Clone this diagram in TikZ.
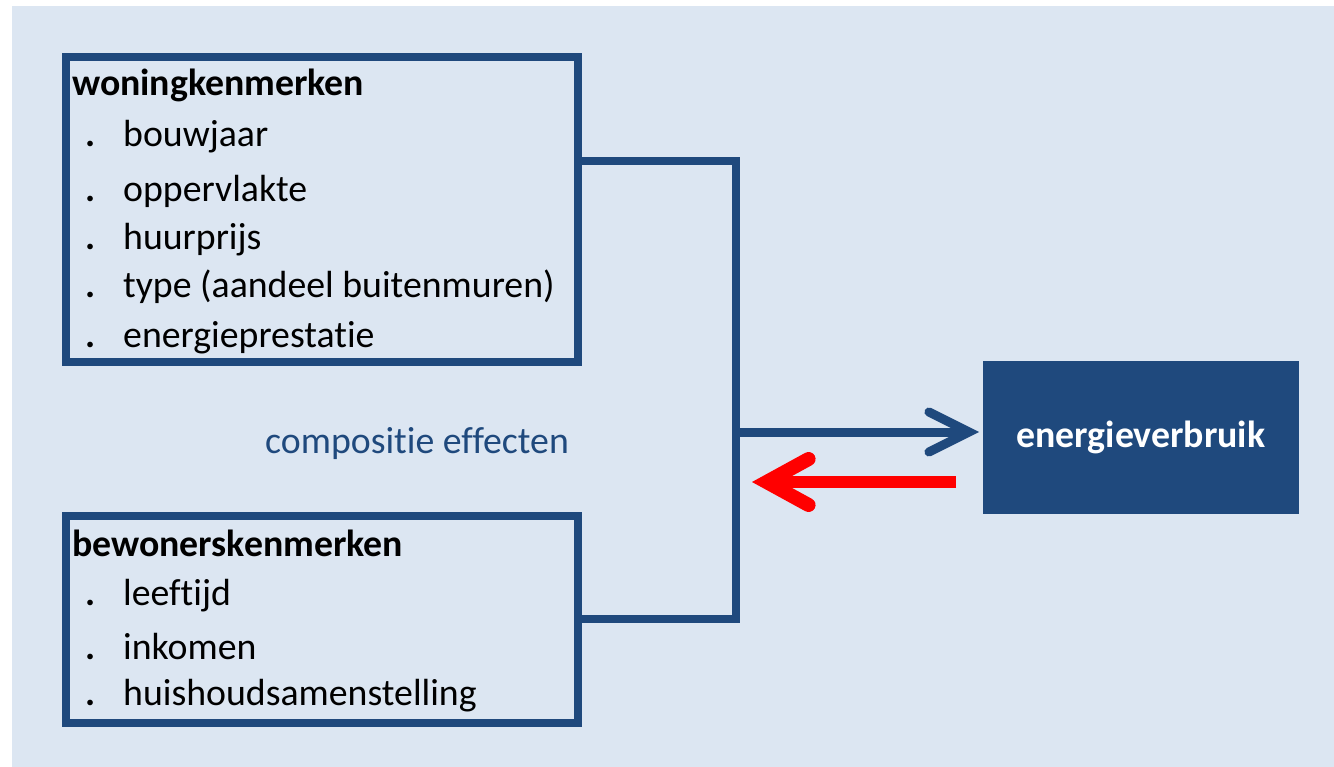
\documentclass[tikz,border=0pt]{standalone}
\usepackage{fontspec}
\setmainfont{Carlito}[Ligatures=NoCommon]
\usetikzlibrary{arrows.meta}
\definecolor{bg}{HTML}{DCE6F2}
\definecolor{navy}{HTML}{1F497D}
\definecolor{redarrow}{HTML}{FF0000}
\newcommand{\bul}{\makebox[38pt][l]{\textbf{.}}}
\begin{document}
\begin{tikzpicture}[x=1pt,y=-1pt,
  frame/.style={draw=navy,line width=8pt,inner sep=0pt,outer sep=0pt},
  head/.style={anchor=base west,inner sep=0pt,font=\fontsize{37.8}{42}\selectfont\bfseries},
  item/.style={anchor=base west,inner sep=0pt,font=\fontsize{37.8}{42}\selectfont},
  conn/.style={draw=navy,line width=8pt,line join=miter},
  bluearrow/.style={draw=navy,line width=9pt,-{Straight Barb[length=40pt,width=40pt,line cap=round,line join=miter]}},
  redarr/.style={draw=redarrow,line width=12pt,-{Straight Barb[length=42pt,width=46pt,line width=14pt,line cap=round,line join=miter]}}]
\useasboundingbox (0,0) rectangle (1334,767);
\fill[bg] (12,6) rectangle (1334,767);
% boxes
\node[frame,minimum width=512pt,minimum height=305pt] (box1) at (322,209.5) {};
\node[frame,minimum width=512pt,minimum height=207pt] (box2) at (322,619.5) {};
\node[fill=navy,inner sep=0pt,outer sep=0pt,minimum width=316pt,minimum height=153pt,
      text=white,font=\fontsize{37.8}{42}\selectfont\bfseries] (energie) at (1141,437.5) {\raisebox{-4pt}{energieverbruik}};
% texts box1
\node[head] (t1) at (72,96) {woningkenmerken};
\node[item] (t1a) at (85,147) {\bul bouwjaar};
\node[item] (t1b) at (85,202) {\bul oppervlakte};
\node[item] (t1c) at (85,250) {\bul huurprijs};
\node[item] (t1d) at (85,298) {\bul type (aandeel buitenmuren)};
\node[item] (t1e) at (85,348) {\bul energieprestatie};
% texts box2
\node[head] (t2) at (72,556) {bewonerskenmerken};
\node[item] (t2a) at (85,605) {\bul leeftijd};
\node[item] (t2b) at (85,659) {\bul inkomen};
\node[item] (t2c) at (85,705) {\bul huishoudsamenstelling};
% label
\node[item,text=navy] (comp) at (265,453) {compositie effecten};
% connectors
\coordinate (j1) at (736,161);
\coordinate (j2) at (736,619);
\coordinate (j3) at (736,432);
\coordinate (r1) at (956,482);
\coordinate (r2) at (752,482);
\draw[conn] (box1.east |- j1) -- (j1) -- (j2) -- (box2.east |- j2);
\draw[bluearrow] (j3) -- ([xshift=-4pt]energie.west |- j3);
\draw[redarr] (r1) -- (r2);
\end{tikzpicture}
\end{document}
